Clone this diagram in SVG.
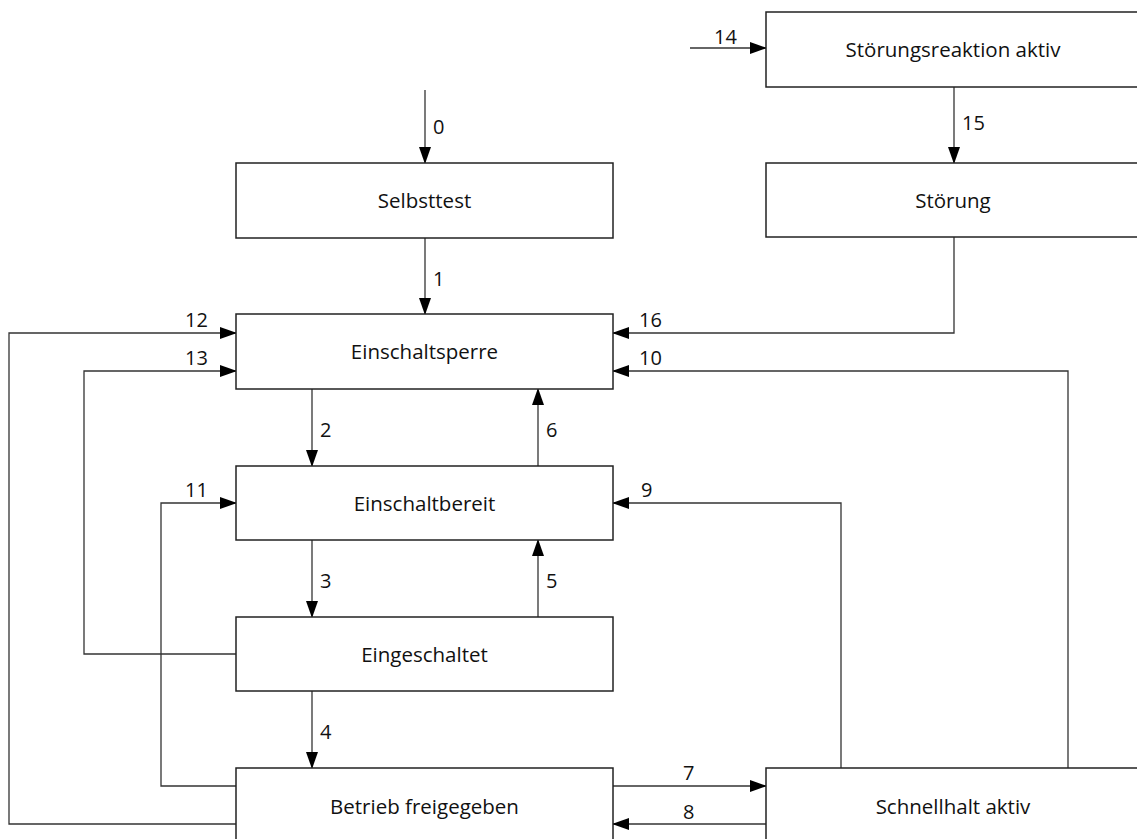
<svg xmlns="http://www.w3.org/2000/svg" width="1137" height="839" viewBox="0 0 1137 839">
<style>
.box{fill:#fff;stroke:#222;stroke-width:1.5}
.lbl{font-family:"Open Sans",Lato,sans-serif;font-size:20.5px;fill:#111;text-anchor:middle;dominant-baseline:central;font-variant-ligatures:none}
.num{font-family:"Open Sans",Lato,sans-serif;font-size:20px;fill:#111}
.c{fill:none;stroke:#333;stroke-width:1.3}
</style>
<defs>
<marker id="ah" markerWidth="17" markerHeight="12" refX="16" refY="6" orient="auto" markerUnits="userSpaceOnUse">
<path d="M0,0 L17,6 L0,12 Z" fill="#000"/>
</marker>
</defs>
<rect width="1137" height="839" fill="#fff"/>
<g id="connectors">
<path class="c" d="M425,90 V163" marker-end="url(#ah)"/>
<path class="c" d="M425,238 V314" marker-end="url(#ah)"/>
<path class="c" d="M690,48 H766" marker-end="url(#ah)"/>
<path class="c" d="M954,87 V163" marker-end="url(#ah)"/>
<path class="c" d="M954,237 V333 H613" marker-end="url(#ah)"/>
<path class="c" d="M1068,768 V371 H613" marker-end="url(#ah)"/>
<path class="c" d="M841,768 V503 H613" marker-end="url(#ah)"/>
<path class="c" d="M312,389 V466" marker-end="url(#ah)"/>
<path class="c" d="M538,466 V389" marker-end="url(#ah)"/>
<path class="c" d="M312,540 V617" marker-end="url(#ah)"/>
<path class="c" d="M538,617 V540" marker-end="url(#ah)"/>
<path class="c" d="M312,691 V768" marker-end="url(#ah)"/>
<path class="c" d="M613,786 H766" marker-end="url(#ah)"/>
<path class="c" d="M766,824 H613" marker-end="url(#ah)"/>
<path class="c" d="M236,824 H9 V333 H236" marker-end="url(#ah)"/>
<path class="c" d="M236,654 H84 V371 H236" marker-end="url(#ah)"/>
<path class="c" d="M236,786 H161 V503 H236" marker-end="url(#ah)"/>
<text class="num" x="433" y="134">0</text>
<text class="num" x="433" y="286">1</text>
<text class="num" x="320" y="437">2</text>
<text class="num" x="320" y="588">3</text>
<text class="num" x="320" y="739">4</text>
<text class="num" x="546" y="588">5</text>
<text class="num" x="546" y="437">6</text>
<text class="num" x="683" y="780">7</text>
<text class="num" x="683" y="819">8</text>
<text class="num" x="641" y="497">9</text>
<text class="num" x="639" y="365">10</text>
<text class="num" x="185" y="497">11</text>
<text class="num" x="185" y="327">12</text>
<text class="num" x="185" y="365">13</text>
<text class="num" x="714" y="44">14</text>
<text class="num" x="962" y="130">15</text>
<text class="num" x="639" y="327">16</text>
</g>
<g id="stoerungsreaktion"><rect class="box" x="766" y="12" width="374" height="75"/><text class="lbl" x="953" y="49">Störungsreaktion aktiv</text></g>
<g id="stoerung"><rect class="box" x="766" y="163" width="374" height="74"/><text class="lbl" x="953" y="200">Störung</text></g>
<g id="selbsttest"><rect class="box" x="236" y="163" width="377" height="75"/><text class="lbl" x="424.5" y="200">Selbsttest</text></g>
<g id="einschaltsperre"><rect class="box" x="236" y="314" width="377" height="75"/><text class="lbl" x="424.5" y="351">Einschaltsperre</text></g>
<g id="einschaltbereit"><rect class="box" x="236" y="466" width="377" height="74"/><text class="lbl" x="424.5" y="503">Einschaltbereit</text></g>
<g id="eingeschaltet"><rect class="box" x="236" y="617" width="377" height="74"/><text class="lbl" x="424.5" y="654">Eingeschaltet</text></g>
<g id="betrieb"><rect class="box" x="236" y="768" width="377" height="80"/><text class="lbl" x="424.5" y="806">Betrieb freigegeben</text></g>
<g id="schnellhalt"><rect class="box" x="766" y="768" width="374" height="80"/><text class="lbl" x="953" y="806">Schnellhalt aktiv</text></g>
</svg>
